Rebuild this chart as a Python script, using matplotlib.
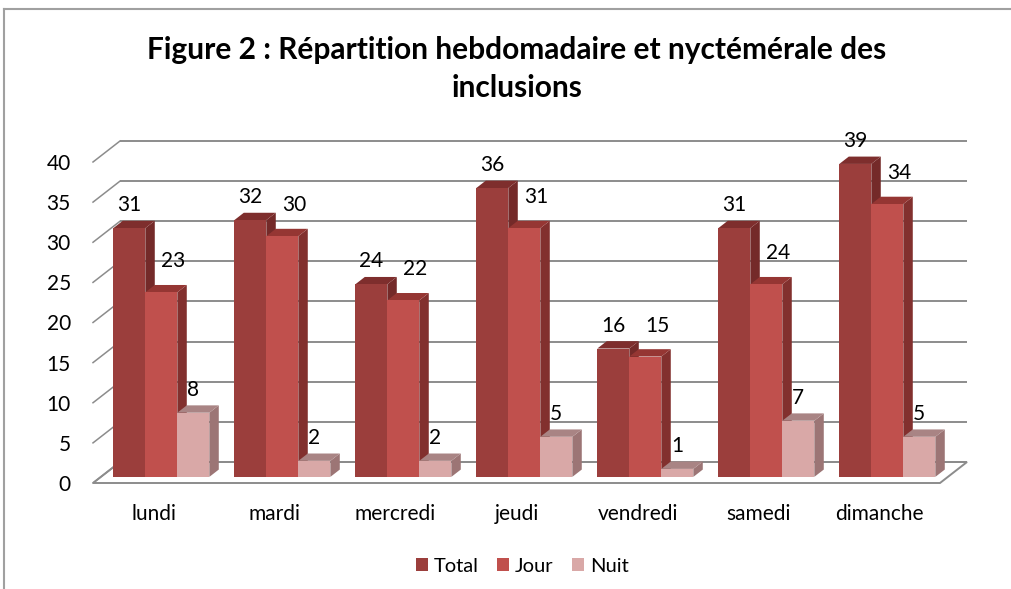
import matplotlib
matplotlib.use("Agg")
import matplotlib.pyplot as plt
from matplotlib.patches import Polygon, Patch
from matplotlib.lines import Line2D

# ---------------- data ----------------
categories = ["lundi", "mardi", "mercredi", "jeudi", "vendredi", "samedi", "dimanche"]
series_names = ["Total", "Jour", "Nuit"]
total = [31, 32, 24, 36, 16, 31, 39]
jour = [23, 30, 22, 31, 15, 24, 34]
nuit = [8, 2, 2, 5, 1, 7, 5]
y_ticks = [0, 5, 10, 15, 20, 25, 30, 35, 40]
title = "Figure 2 : Répartition hebdomadaire et nyctémérale des\ninclusions"

# ---------------- style ----------------
plt.rcParams['font.family'] = ["Lato", "DejaVu Sans"]
W, H = 1012, 589
fig = plt.figure(figsize=(W / 100, H / 100), dpi=100)
fig.patch.set_facecolor("white")

face_colors = {
    "Total": ("#9B3E3C", "#742A29", "#7E2E2D"),
    "Jour": ("#C0504D", "#82302E", "#953633"),
    "Nuit": ("#D9A8A7", "#9C7575", "#A98484"),
}
grid_col = "#8C8C8C"

# front plane of the plot, in pixels
ax_l, ax_r, ax_b, ax_t = 93, 940, 483, 162
ax = fig.add_axes([ax_l / W, (H - ax_b) / H, (ax_r - ax_l) / W, (ax_b - ax_t) / H])
n = len(categories)
ymax = y_ticks[-1]
ax.set_xlim(-0.5, n - 0.5)
ax.set_ylim(0, ymax)
for s in ax.spines.values():
    s.set_visible(False)
ax.set_facecolor("none")

px_x = (ax_r - ax_l) / n
px_y = (ax_b - ax_t) / ymax
DX = 27 / px_x
DY = 21 / px_y

# walls / floor
x_lo, x_hi = -0.5, n - 0.5
floor = Polygon([(x_lo, 0), (x_hi, 0), (x_hi + DX, DY), (x_lo + DX, DY)],
                closed=True, facecolor="white", edgecolor=grid_col, lw=1.4,
                clip_on=False, zorder=1)
ax.add_patch(floor)
for v in y_ticks:
    ax.plot([x_lo + DX, x_hi + DX], [v + DY, v + DY], color=grid_col, lw=1.4,
            clip_on=False, zorder=1, solid_capstyle="butt")
    ax.plot([x_lo, x_lo + DX], [v, v + DY], color=grid_col, lw=1.1,
            clip_on=False, zorder=1)

# bars
bw = 32 / px_x
f0, f1 = 0.29, 0.64
bdx, bdy = (f1 - f0) * DX, (f1 - f0) * DY
values = {"Total": total, "Jour": jour, "Nuit": nuit}
label_off = {"Total": (0, 23), "Jour": (12, 31), "Nuit": (0, 23)}
z = 2
for i in range(n):
    for s, name in enumerate(series_names):
        v = values[name][i]
        fc, sc, tc = face_colors[name]
        x0 = i - 1.5 * bw + s * bw + f0 * DX
        x1 = x0 + bw
        y0 = f0 * DY
        y1 = y0 + v
        side = Polygon([(x1, y0), (x1 + bdx, y0 + bdy), (x1 + bdx, y1 + bdy), (x1, y1)],
                       closed=True, facecolor=sc, edgecolor="none", clip_on=False, zorder=z)
        top = Polygon([(x0, y1), (x1, y1), (x1 + bdx, y1 + bdy), (x0 + bdx, y1 + bdy)],
                      closed=True, facecolor=tc, edgecolor="none", clip_on=False, zorder=z)
        front = Polygon([(x0, y0), (x1, y0), (x1, y1), (x0, y1)],
                        closed=True, facecolor=fc, edgecolor="none", clip_on=False, zorder=z + 0.5)
        ax.add_patch(side)
        ax.add_patch(top)
        ax.add_patch(front)
        z += 1
        ox, oy = label_off[name]
        ax.annotate(str(v), xy=((x0 + x1) / 2, y1), xytext=(ox, oy),
                    textcoords="offset pixels", ha="center", va="center",
                    fontsize=15, color="black", zorder=100, annotation_clip=False)

ax.set_yticks(y_ticks)
ax.set_yticklabels([str(t) for t in y_ticks], fontsize=15)
ax.set_xticks(range(n))
ax.set_xticklabels(categories, fontsize=15)
ax.tick_params(axis="y", length=0, pad=16)
ax.tick_params(axis="x", length=0, pad=15)

# title
fig.text(517 / W, 1 - 69 / H, title, ha="center", va="center", fontsize=21.5,
         fontweight="bold", linespacing=1.42)

# legend
handles = [Patch(facecolor=face_colors[nm][0], edgecolor="none") for nm in series_names]
fig.legend(handles, series_names, loc="center", bbox_to_anchor=(522 / W, 1 - 566 / H),
           ncol=3, frameon=False, fontsize=14.5, handlelength=0.6, handleheight=0.6,
           handletextpad=0.3, columnspacing=0.9)

# chart border
fig.add_artist(Line2D([4 / W, 1.0], [1 - 9 / H, 1 - 9 / H], transform=fig.transFigure,
                      color="#A0A0A0", lw=1.5))
fig.add_artist(Line2D([4 / W, 4 / W], [0, 1 - 9 / H], transform=fig.transFigure,
                      color="#A0A0A0", lw=1.5))

fig.savefig("out.png", dpi=100)
